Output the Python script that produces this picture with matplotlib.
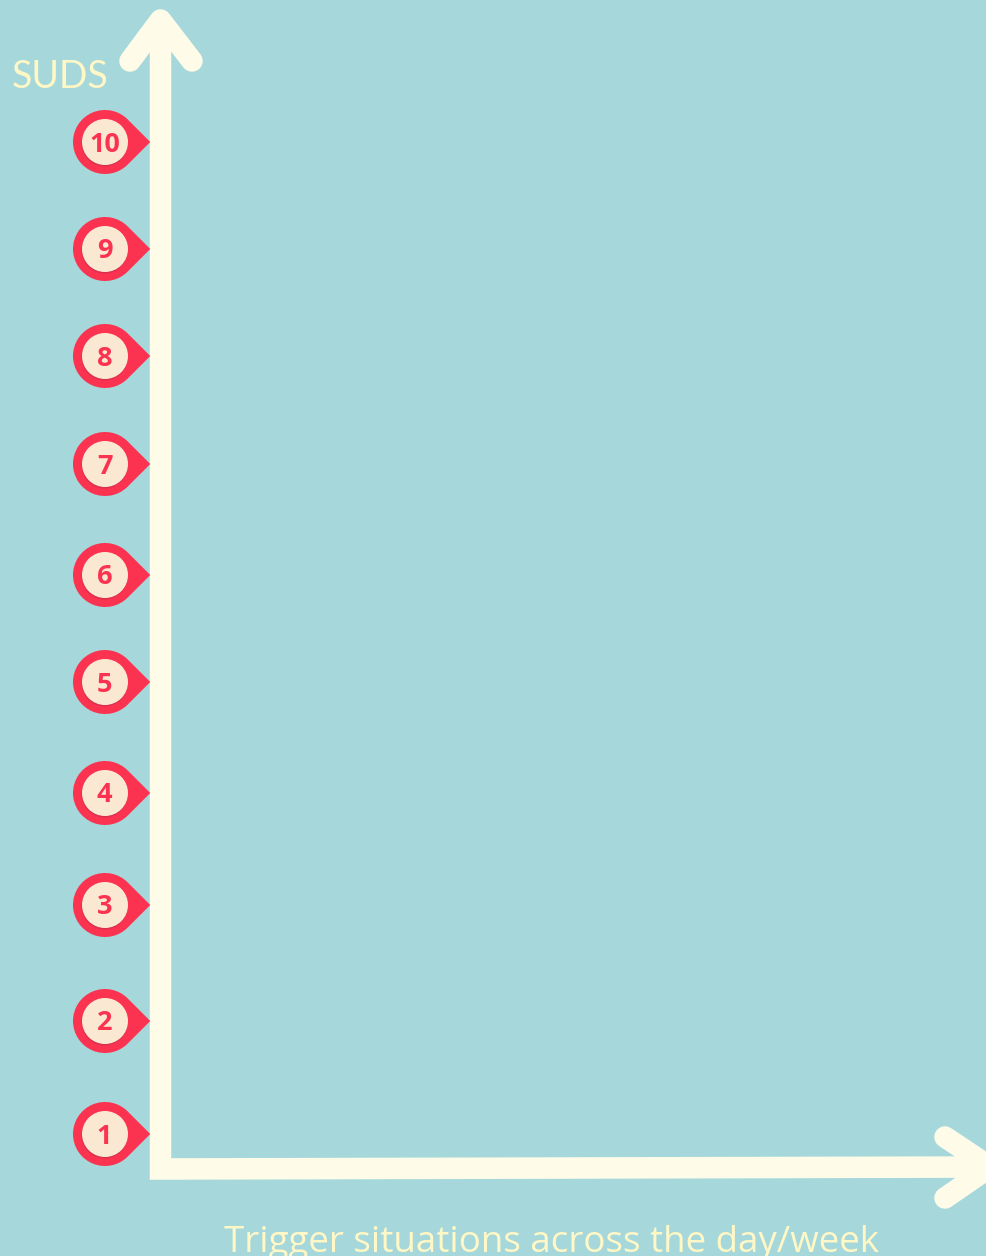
"""SUDS scale chart: empty axes with numbered pins along the y axis."""

import matplotlib

matplotlib.use("Agg")

import matplotlib.pyplot as plt
from matplotlib.patches import Circle, PathPatch
from matplotlib.path import Path
from matplotlib.transforms import Affine2D

# Levels and where each pin sits (pixels from the top)
suds_levels = ["10", "9", "8", "7", "6", "5", "4", "3", "2", "1"]
suds_y = [142, 249, 356, 464, 575, 682, 793, 905, 1021, 1134]
y_title = "SUDS"
x_title = "Trigger situations across the day/week"

BG = "#A5D7DB"
AXIS = "#FEFCE8"
LABEL = "#FFF7C6"
PIN = "#FB3350"
PIN_DARK = "#D9304C"
PIN_FACE = "#FBE8D3"

PIN_X = 105
PIN_R = 32
FACE_R = 23
AXIS_W = 15.5  # points, about 21.5 px at dpi 100


def pin_path():
    # Circle with a point on the right, tangent at +-45 degrees
    arc = Path.arc(45, 315)
    verts = list(arc.vertices) + [(2 ** 0.5, 0), arc.vertices[0]]
    codes = list(arc.codes) + [Path.LINETO, Path.CLOSEPOLY]
    return Path(verts, codes)


fig = plt.figure(figsize=(9.86, 12.56), dpi=100, facecolor=BG)
ax = fig.add_axes([0, 0, 1, 1])
ax.set_xlim(0, 986)
ax.set_ylim(1256, 0)
ax.axis("off")

# Axes lines
ax.plot([160.5, 160.5, 986], [20, 1169, 1167], color=AXIS, lw=AXIS_W,
        solid_capstyle="butt", solid_joinstyle="miter", zorder=2)
ax.plot([130, 160.5, 192], [61, 20, 61], color=AXIS, lw=AXIS_W,
        solid_capstyle="round", solid_joinstyle="round", zorder=2)
ax.plot([945, 990, 945], [1137, 1167, 1198], color=AXIS, lw=AXIS_W,
        solid_capstyle="round", solid_joinstyle="round", zorder=2)

# Pins
base = pin_path()
for level, y in zip(suds_levels, suds_y):
    tr = Affine2D().scale(PIN_R).translate(PIN_X, y) + ax.transData
    ax.add_patch(PathPatch(base, transform=tr, fc=PIN, ec="none", zorder=3))
    ax.add_patch(Circle((PIN_X - 0.5, y + 1.5), FACE_R, fc=PIN_DARK, ec="none", zorder=4))
    ax.add_patch(Circle((PIN_X, y), FACE_R, fc=PIN_FACE, ec="none", zorder=5))
    ax.text(PIN_X - 0.5, y + 2.5, level, color=PIN, fontsize=19.5, family="Open Sans", weight="bold",
            ha="center", va="center", zorder=6)

ax.text(12, 88, y_title, color=LABEL, fontsize=27, family="Lato", weight="normal",
        ha="left", va="baseline")
ax.text(224, 1252, x_title, color=LABEL, fontsize=26.5, family="Open Sans", weight="normal",
        ha="left", va="baseline", clip_on=True)

fig.savefig("out.png", dpi=100, facecolor=BG)
